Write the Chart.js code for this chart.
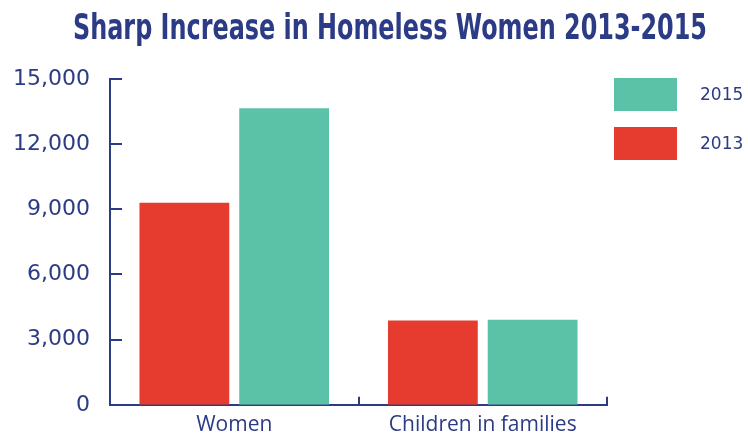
<!DOCTYPE html>
<html>
<head>
<meta charset="utf-8">
<script src="https://cdn.jsdelivr.net/npm/chart.js@4"></script>
<style>
  html, body { margin: 0; padding: 0; background: #fff; }
  #wrap { width: 748px; height: 438px; }
</style>
</head>
<body>
<div id="wrap"><canvas id="chart" width="748" height="438"></canvas></div>
<script>
// Chart data
const categories = ['Women', 'Children in families'];
const values2013 = [9300, 3880];
const values2015 = [13650, 3920];
const yTicks = [0, 3000, 6000, 9000, 12000, 15000];
const titleText = 'Sharp Increase in Homeless Women 2013-2015';

const NAVY = '#2c3b85';
const RED = '#e63b2f';
const GREEN = '#5bc2a8';

// Title drawn condensed, like the original heading
const titlePlugin = {
    id: 'condensedTitle',
    afterDraw(chart) {
        const ctx = chart.ctx;
        ctx.save();
        ctx.font = 'bold 36px "Liberation Sans Narrow", "DejaVu Sans Condensed", "Liberation Sans", sans-serif';
        ctx.fillStyle = NAVY;
        ctx.textBaseline = 'alphabetic';
        const w = ctx.measureText(titleText).width;
        const targetW = 634;
        ctx.translate(73, 39);
        ctx.scale(targetW / w, 1);
        ctx.fillText(titleText, 0, 0);
        ctx.restore();
    }
};

// Inward tick marks on both axes
const tickPlugin = {
    id: 'inwardTicks',
    afterDraw(chart) {
        const ctx = chart.ctx;
        const x = chart.scales.x;
        const y = chart.scales.y;
        const area = chart.chartArea;
        ctx.save();
        ctx.strokeStyle = NAVY;
        ctx.lineWidth = 2;
        y.ticks.forEach(t => {
            const py = Math.round(y.getPixelForValue(t.value));
            ctx.beginPath();
            ctx.moveTo(area.left, py);
            ctx.lineTo(area.left + 12, py);
            ctx.stroke();
        });
        for (let i = 0; i < categories.length; i++) {
            const px = i < categories.length - 1
                ? (x.getPixelForValue(i) + x.getPixelForValue(i + 1)) / 2
                : area.right;
            ctx.beginPath();
            ctx.moveTo(Math.round(px), area.bottom);
            ctx.lineTo(Math.round(px), area.bottom - 8);
            ctx.stroke();
        }
        ctx.restore();
    }
};

// Legend boxes on the right, 2015 above 2013
const legendPlugin = {
    id: 'sideLegend',
    afterDraw(chart) {
        const ctx = chart.ctx;
        const sets = chart.data.datasets.slice().reverse();
        ctx.save();
        ctx.font = '17px "DejaVu Sans", sans-serif';
        ctx.textBaseline = 'middle';
        sets.forEach((ds, i) => {
            const top = 78 + i * 49;
            ctx.fillStyle = ds.backgroundColor;
            ctx.fillRect(614, top, 63, 33);
            ctx.fillStyle = NAVY;
            ctx.fillText(ds.label, 700, top + 18);
        });
        ctx.restore();
    }
};

const ctx = document.getElementById('chart').getContext('2d');
new Chart(ctx, {
    type: 'bar',
    data: {
        labels: categories,
        datasets: [
            { label: '2013', data: values2013, backgroundColor: RED, borderWidth: 0 },
            { label: '2015', data: values2015, backgroundColor: GREEN, borderWidth: 0 }
        ]
    },
    options: {
        responsive: false,
        animation: false,
        categoryPercentage: 0.803,
        barPercentage: 0.9,
        layout: { padding: { top: 79, right: 141, left: 0, bottom: 0 } },
        plugins: {
            legend: { display: false },
            title: { display: false },
            tooltip: { enabled: false }
        },
        scales: {
            x: {
                grid: { display: false, drawTicks: false },
                border: { display: true, color: NAVY, width: 2 },
                ticks: {
                    color: NAVY,
                    padding: 8,
                    font: { family: '"Open Sans", sans-serif', size: 21 }
                },
                afterFit(scale) { scale.height = 32; }
            },
            y: {
                min: 0,
                max: 15000,
                afterBuildTicks(scale) {
                    scale.ticks = yTicks.map(v => ({ value: v }));
                },
                grid: { display: false, drawTicks: false },
                border: { display: true, color: NAVY, width: 2 },
                ticks: {
                    color: NAVY,
                    padding: 20,
                    font: { family: '"DejaVu Sans", sans-serif', size: 22 },
                    callback: v => v.toLocaleString('en-US')
                },
                afterFit(scale) { scale.width = 110; }
            }
        }
    },
    plugins: [titlePlugin, tickPlugin, legendPlugin]
});
</script>
</body>
</html>
